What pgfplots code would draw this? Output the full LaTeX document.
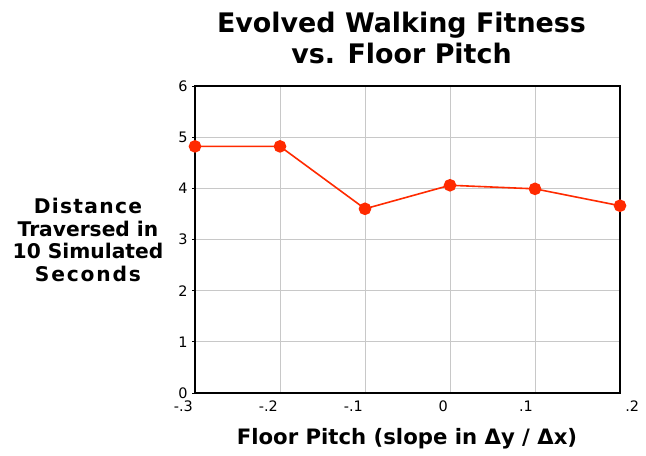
\documentclass[border=0pt]{standalone}
\usepackage{pgfplots}
\pgfplotsset{compat=1.18}
\usepackage{fontspec}
\setmainfont{DejaVu Sans}
\newfontfamily\tickfont{DejaVu Sans}
\newfontfamily\labwideA[LetterSpace=6.5]{DejaVu Sans}
\newfontfamily\labwideB[LetterSpace=9]{DejaVu Sans}
\definecolor{linered}{HTML}{FF2A00}
\definecolor{gridgray}{HTML}{C8C8C8}
\begin{document}
\begin{tikzpicture}[x=1bp,y=1bp]
\begin{axis}[
  at={(0,0)}, anchor=south west,
  scale only axis, width=425bp, height=307bp,
  xmin=-0.3, xmax=0.2, ymin=0, ymax=6,
  xtick={-0.3,-0.2,-0.1,0,0.1,0.2},
  xticklabels={-.3,-.2,-.1,0,.1,\makebox[0pt][l]{\hspace{8bp}.2}},
  ytick={0,1,2,3,4,5,6},
  ytick pos=left,
  /pgf/number format/assume math mode=true,
  tick label style={font=\tickfont\fontsize{14.5}{16}\selectfont},
  xtick style={draw=none},
  ytick style={black, line width=0.8bp},
  tick align=outside, major tick length=3bp,
  grid=major, major grid style={gridgray, line width=1bp},
  axis line style={black, line width=1.3bp},
  xticklabel style={anchor=north east, inner xsep=0pt, xshift=-2bp, yshift=-1bp},
  yticklabel style={xshift=-1bp},
  clip=false,
]
\addplot[linered, line width=1.6bp, mark=*, mark size=5.5bp, mark options={fill=linered, draw=linered}]
  coordinates {(-0.3,4.82) (-0.2,4.82) (-0.1,3.60) (0,4.06) (0.1,3.99) (0.2,3.66)};
\end{axis}
\node[align=center, font=\bfseries\fontsize{27}{31}\selectfont] at (206.5bp,355bp) {Evolved Walking Fitness\\vs. Floor Pitch};
\node[align=center, font=\bfseries\fontsize{20.3}{23}\selectfont] at (-107bp,153bp) {{\labwideA\bfseries Distance}\\Traversed in\\10 Simulated\\{\labwideB\bfseries Seconds}};
\node[font=\bfseries\fontsize{21.3}{23}\selectfont] at (212bp,-46bp) {Floor Pitch (slope in Δy / Δx)};
\useasboundingbox (-195bp,-63bp) rectangle (451bp,393bp);
\end{tikzpicture}
\end{document}
